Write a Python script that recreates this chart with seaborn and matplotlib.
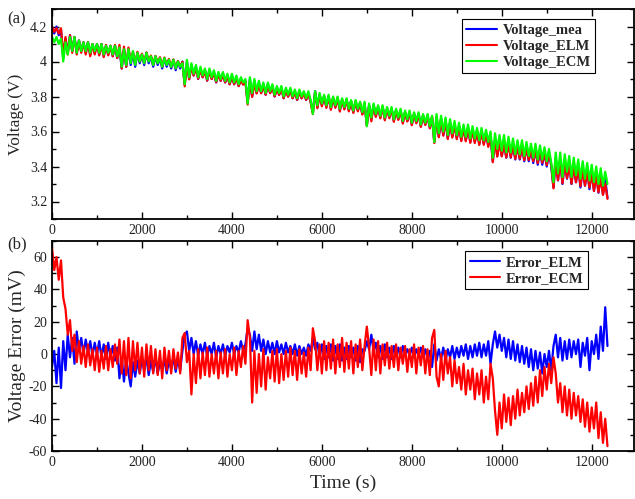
import numpy as np
import pandas as pd
import matplotlib
matplotlib.use("Agg")
import matplotlib.pyplot as plt
import seaborn as sns
from matplotlib.ticker import MultipleLocator, FuncFormatter

# ---------------- data (50 s sampling) ----------------
time_s = np.arange(0, 12400, 50)

voltage_mea = [
    4.20, 4.16, 4.20, 4.15, 4.18, 4.02, 4.13, 4.05, 4.15, 4.06, 4.14, 4.05, 4.12, 4.06, 4.11, 4.05, 4.11, 4.04, 4.10, 4.05,
    4.10, 4.04, 4.10, 4.03, 4.09, 4.04, 4.09, 4.03, 4.09, 4.02, 4.08, 3.96, 4.07, 3.97, 4.07, 3.98, 4.05, 3.97, 4.05, 3.99,
    4.04, 3.98, 4.05, 3.99, 4.03, 3.97, 4.03, 3.98, 4.02, 3.96, 4.02, 3.97, 4.01, 3.96, 4.01, 3.95, 4.00, 3.96, 4.00, 3.87,
    4.00, 3.90, 3.98, 3.92, 3.97, 3.90, 3.96, 3.91, 3.95, 3.89, 3.95, 3.90, 3.94, 3.88, 3.93, 3.89, 3.93, 3.88, 3.92, 3.87,
    3.92, 3.87, 3.91, 3.86, 3.90, 3.87, 3.89, 3.77, 3.90, 3.80, 3.89, 3.82, 3.88, 3.82, 3.87, 3.81, 3.87, 3.82, 3.86, 3.80,
    3.85, 3.81, 3.85, 3.79, 3.84, 3.80, 3.84, 3.79, 3.83, 3.78, 3.83, 3.79, 3.82, 3.78, 3.82, 3.77, 3.71, 3.83, 3.74, 3.81,
    3.75, 3.80, 3.74, 3.80, 3.73, 3.79, 3.74, 3.79, 3.72, 3.78, 3.73, 3.78, 3.72, 3.77, 3.71, 3.77, 3.72, 3.76, 3.70, 3.76,
    3.64, 3.75, 3.67, 3.75, 3.69, 3.74, 3.68, 3.74, 3.67, 3.73, 3.68, 3.73, 3.66, 3.72, 3.67, 3.72, 3.65, 3.71, 3.66, 3.71,
    3.64, 3.70, 3.65, 3.70, 3.63, 3.69, 3.64, 3.69, 3.62, 3.68, 3.54, 3.68, 3.57, 3.67, 3.58, 3.66, 3.56, 3.65, 3.57, 3.64,
    3.56, 3.63, 3.55, 3.62, 3.55, 3.62, 3.54, 3.61, 3.54, 3.60, 3.53, 3.60, 3.53, 3.59, 3.52, 3.58, 3.43, 3.56, 3.46, 3.55,
    3.46, 3.54, 3.45, 3.54, 3.45, 3.53, 3.44, 3.52, 3.44, 3.52, 3.43, 3.51, 3.43, 3.50, 3.42, 3.50, 3.41, 3.49, 3.41, 3.48,
    3.40, 3.48, 3.40, 3.28, 3.45, 3.32, 3.44, 3.30, 3.43, 3.33, 3.42, 3.30, 3.41, 3.31, 3.40, 3.28, 3.39, 3.29, 3.38, 3.27,
    3.37, 3.26, 3.36, 3.25, 3.35, 3.24, 3.33, 3.22,
]

voltage_elm = [
    4.200, 4.170, 4.190, 4.160, 4.190, 4.030, 4.140, 4.040, 4.150, 4.050, 4.140, 4.040, 4.120, 4.050, 4.110, 4.040, 4.110, 4.030, 4.100, 4.040,
    4.100, 4.035, 4.100, 4.025, 4.095, 4.035, 4.090, 4.030, 4.095, 4.020, 4.095, 3.960, 4.085, 3.970, 4.080, 4.000, 4.055, 3.985, 4.055, 4.000,
    4.045, 3.990, 4.052, 4.003, 4.034, 3.981, 4.032, 3.992, 4.025, 3.970, 4.023, 3.982, 4.014, 3.969, 4.012, 3.961, 4.003, 3.970, 3.998, 3.858,
    3.986, 3.898, 3.970, 3.920, 3.962, 3.901, 3.954, 3.910, 3.943, 3.891, 3.945, 3.900, 3.933, 3.882, 3.925, 3.890, 3.924, 3.881, 3.915, 3.869,
    3.913, 3.870, 3.905, 3.859, 3.892, 3.868, 3.884, 3.754, 3.888, 3.798, 3.876, 3.817, 3.868, 3.818, 3.861, 3.810, 3.862, 3.819, 3.853, 3.800,
    3.842, 3.809, 3.844, 3.790, 3.833, 3.799, 3.835, 3.790, 3.824, 3.781, 3.825, 3.790, 3.816, 3.781, 3.814, 3.768, 3.700, 3.827, 3.733, 3.812,
    3.744, 3.803, 3.735, 3.802, 3.724, 3.794, 3.735, 3.793, 3.714, 3.784, 3.726, 3.783, 3.715, 3.772, 3.706, 3.774, 3.715, 3.765, 3.697, 3.758,
    3.632, 3.747, 3.658, 3.748, 3.683, 3.742, 3.675, 3.743, 3.664, 3.732, 3.676, 3.733, 3.655, 3.721, 3.666, 3.722, 3.645, 3.710, 3.657, 3.711,
    3.636, 3.702, 3.647, 3.701, 3.626, 3.692, 3.637, 3.693, 3.618, 3.688, 3.534, 3.684, 3.567, 3.673, 3.576, 3.664, 3.557, 3.652, 3.565, 3.643,
    3.556, 3.632, 3.545, 3.621, 3.544, 3.623, 3.535, 3.612, 3.534, 3.601, 3.523, 3.602, 3.524, 3.591, 3.512, 3.586, 3.424, 3.546, 3.456, 3.538,
    3.458, 3.530, 3.452, 3.531, 3.453, 3.522, 3.444, 3.514, 3.445, 3.515, 3.436, 3.506, 3.438, 3.497, 3.430, 3.498, 3.419, 3.489, 3.422, 3.480,
    3.408, 3.478, 3.410, 3.275, 3.438, 3.322, 3.430, 3.304, 3.422, 3.333, 3.411, 3.302, 3.402, 3.310, 3.391, 3.288, 3.383, 3.291, 3.370, 3.280,
    3.362, 3.260, 3.348, 3.253, 3.333, 3.238, 3.301, 3.215,
]

voltage_ecm = [
    4.14, 4.11, 4.14, 4.10, 4.13, 4.00, 4.11, 4.04, 4.14, 4.06, 4.14, 4.05, 4.12, 4.06, 4.11, 4.06, 4.11, 4.05, 4.10, 4.06,
    4.10, 4.05, 4.10, 4.04, 4.09, 4.05, 4.09, 4.04, 4.09, 4.03, 4.08, 3.97, 4.07, 3.98, 4.07, 3.99, 4.06, 3.98, 4.05, 4.00,
    4.04, 3.99, 4.05, 4.00, 4.03, 3.98, 4.03, 3.99, 4.02, 3.97, 4.02, 3.98, 4.01, 3.97, 4.01, 3.96, 4.00, 3.97, 3.99, 3.87,
    4.01, 3.91, 3.99, 3.93, 3.98, 3.91, 3.97, 3.92, 3.96, 3.90, 3.96, 3.91, 3.95, 3.89, 3.94, 3.90, 3.94, 3.89, 3.93, 3.88,
    3.93, 3.88, 3.92, 3.87, 3.91, 3.88, 3.90, 3.76, 3.91, 3.82, 3.90, 3.83, 3.89, 3.83, 3.88, 3.82, 3.88, 3.83, 3.87, 3.81,
    3.86, 3.82, 3.86, 3.80, 3.85, 3.81, 3.85, 3.80, 3.84, 3.79, 3.84, 3.80, 3.83, 3.79, 3.83, 3.78, 3.70, 3.83, 3.75, 3.82,
    3.76, 3.81, 3.75, 3.81, 3.74, 3.80, 3.75, 3.80, 3.73, 3.79, 3.74, 3.79, 3.73, 3.78, 3.72, 3.78, 3.73, 3.77, 3.71, 3.77,
    3.63, 3.76, 3.68, 3.76, 3.70, 3.75, 3.69, 3.75, 3.68, 3.74, 3.69, 3.74, 3.67, 3.73, 3.68, 3.73, 3.66, 3.72, 3.67, 3.72,
    3.65, 3.71, 3.66, 3.71, 3.64, 3.70, 3.65, 3.70, 3.63, 3.69, 3.54, 3.70, 3.59, 3.69, 3.60, 3.68, 3.58, 3.67, 3.59, 3.66,
    3.58, 3.65, 3.57, 3.64, 3.57, 3.64, 3.56, 3.63, 3.56, 3.62, 3.55, 3.62, 3.55, 3.61, 3.54, 3.60, 3.45, 3.59, 3.50, 3.58,
    3.49, 3.58, 3.48, 3.57, 3.48, 3.56, 3.47, 3.55, 3.47, 3.55, 3.46, 3.54, 3.46, 3.53, 3.45, 3.53, 3.44, 3.52, 3.44, 3.51,
    3.43, 3.50, 3.42, 3.31, 3.48, 3.36, 3.48, 3.34, 3.47, 3.37, 3.46, 3.34, 3.45, 3.35, 3.44, 3.33, 3.43, 3.33, 3.42, 3.32,
    3.41, 3.31, 3.40, 3.30, 3.39, 3.29, 3.37, 3.30,
]

error_elm = [
    -8, 2, -18, 4, -21, 8, -10, 12, -2, 10,
    -6, 14, 2, 10, 0, 9, 1, 8, -1, 7,
    0, 8, -2, 6, -3, 7, -2, 5, -4, 4,
    -15, -2, -17, -3, -12, -20, -5, -14, -4, -12,
    -3, -10, -2, -13, -4, -11, -2, -12, -5, -10,
    -3, -12, -4, -9, -2, -11, -3, -10, 2, 12,
    14, 2, 10, 0, 8, -1, 6, 0, 7, -1,
    5, 0, 7, -2, 5, 0, 6, -1, 5, 1,
    7, 0, 5, 1, 8, 2, 6, 16, 12, 2,
    14, 3, 12, 2, 9, 0, 8, 1, 7, 0,
    8, 1, 6, 0, 7, 1, 5, 0, 6, -1,
    5, 0, 4, -1, 6, 2, 10, 3, 7, -2,
    6, -3, 5, -2, 6, -4, 5, -3, 6, -4,
    4, -3, 5, -2, 4, -4, 5, -5, 3, 2,
    8, 3, 12, 2, 7, -2, 5, -3, 6, -2,
    4, -3, 5, -1, 4, -2, 5, 0, 3, -1,
    4, -2, 3, -1, 4, -2, 3, -3, 2, -8,
    6, -4, 3, -3, 4, -4, 3, -2, 5, -3,
    4, -2, 5, -1, 6, -3, 5, -2, 6, -1,
    7, -2, 6, -1, 8, -6, 6, 14, 4, 12,
    2, 10, -2, 9, -3, 8, -4, 6, -5, 5,
    -6, 4, -8, 3, -10, 2, -9, 1, -12, 0,
    -8, 2, -10, 5, 12, -2, 10, -4, 8, -3,
    9, -2, 8, 0, 9, -8, 7, -1, 10, -10,
    8, 0, 12, -3, 17, 2, 29, 5,
]

error_ecm = [
    66, 52, 60, 46, 58, 35, 28, 12, 21, 2,
    12, -5, 8, -6, 5, -8, 6, -7, 3, -10,
    4, -11, 2, -9, 5, -10, 3, -8, 6, -6,
    9, -12, 8, -13, 10, -15, 8, -10, 7, -12,
    4, -14, 6, -10, 5, -12, 3, -13, 2, -15,
    4, -10, 2, -12, 3, -9, 1, -12, 10, 13,
    -5, 2, -25, 0, -18, 3, -15, 1, -13, 4,
    -14, 0, -12, 2, -15, 1, -12, 3, -14, 0,
    -10, 4, -13, 2, -8, 5, -6, 21, 10, -30,
    2, -24, 0, -20, 3, -22, -2, -15, 2, -17,
    3, -18, 0, -16, 2, -14, 4, -13, 2, -16,
    3, -12, 1, -14, 4, -10, 16, 8, -10, 6,
    -12, 8, -10, 7, -9, 9, -12, 6, -8, 10,
    -11, 7, -9, 8, -12, 6, -8, 9, -10, 5,
    17, 4, -13, 9, -10, 8, -12, 6, -7, 7,
    -9, 5, -8, 6, -10, 4, -6, 5, -11, 3,
    -8, 6, -12, 4, -7, 5, -12, 3, -13, 10,
    15, -14, -20, 0, -16, 2, -12, -2, -20, -4,
    -18, -8, -22, -6, -25, -10, -22, -9, -28, -12,
    -25, -10, -30, -14, -28, -6, -15, -35, -50, -30,
    -46, -25, -42, -27, -44, -26, -40, -22, -38, -24,
    -36, -20, -34, -18, -32, -14, -30, -10, -26, -8,
    -22, -6, -18, -2, -12, -30, -18, -36, -20, -38,
    -22, -40, -24, -38, -26, -42, -28, -45, -30, -48,
    -33, -46, -30, -52, -36, -55, -40, -57,
]

voltage_labels = ["Voltage_mea", "Voltage_ELM", "Voltage_ECM"]
error_labels = ["Error_ELM", "Error_ECM"]

df_v = pd.DataFrame({"t": time_s, "mea": voltage_mea, "elm": voltage_elm, "ecm": voltage_ecm})
df_e = pd.DataFrame({"t": time_s, "elm": error_elm, "ecm": error_ecm})

# ---------------- style ----------------
sns.set_style("ticks")
plt.rcParams["font.family"] = ["Liberation Serif", "DejaVu Serif"]
plt.rcParams["axes.unicode_minus"] = False

BLUE, RED, GREEN = "#0000FF", "#FF0000", "#00FF00"

fig = plt.figure(figsize=(6.35, 4.99), dpi=100)
W, H = 635, 499
ax1 = fig.add_axes([52 / W, 1 - 219 / H, 582 / W, 210 / H])
ax2 = fig.add_axes([52 / W, 1 - 451 / H, 582 / W, 210 / H])

lw = 1.6
sns.lineplot(data=df_v, x="t", y="mea", ax=ax1, color=BLUE, lw=lw, label=voltage_labels[0], sort=False, estimator=None)
sns.lineplot(data=df_v, x="t", y="elm", ax=ax1, color=RED, lw=lw, label=voltage_labels[1], sort=False, estimator=None)
sns.lineplot(data=df_v, x="t", y="ecm", ax=ax1, color=GREEN, lw=lw, label=voltage_labels[2], sort=False, estimator=None)

sns.lineplot(data=df_e, x="t", y="elm", ax=ax2, color=BLUE, lw=lw, label=error_labels[0], sort=False, estimator=None)
sns.lineplot(data=df_e, x="t", y="ecm", ax=ax2, color=RED, lw=lw, label=error_labels[1], sort=False, estimator=None)

for ax in (ax1, ax2):
    ax.set_xlim(0, 12940)
    ax.xaxis.set_major_locator(MultipleLocator(2000))
    ax.xaxis.set_minor_locator(MultipleLocator(1000))
    ax.tick_params(which="both", direction="in", top=True, right=True,
                   labelsize=10, colors="black", width=1.0)
    ax.tick_params(which="major", length=5)
    ax.tick_params(which="minor", length=3)
    for s in ax.spines.values():
        s.set_linewidth(1.3)
        s.set_color("black")

ax1.set_ylim(3.1, 4.3)
ax1.yaxis.set_major_locator(MultipleLocator(0.2))
ax1.yaxis.set_minor_locator(MultipleLocator(0.1))
ax1.yaxis.set_major_formatter(FuncFormatter(lambda v, p: f"{v:g}"))
ax1.set_xlabel("")
ax1.set_ylabel("Voltage (V)", fontsize=12.5, labelpad=4)

ax2.set_ylim(-60, 70)
ax2.yaxis.set_major_locator(MultipleLocator(20))
ax2.yaxis.set_minor_locator(MultipleLocator(10))
ax2.yaxis.set_major_formatter(FuncFormatter(lambda v, p: f"{v:g}"))
ax2.set_xlabel("Time (s)", fontsize=14, labelpad=4)
ax2.set_ylabel("Voltage Error (mV)", fontsize=14, labelpad=2)

for ax in (ax1, ax2):
    for lab in ax.get_xticklabels() + ax.get_yticklabels():
        lab.set_color("#222222")

leg_kw = dict(loc="upper right", frameon=True, fancybox=False, framealpha=1,
              edgecolor="black", handlelength=2.1, handletextpad=0.4,
              labelspacing=0.2, borderpad=0.3, borderaxespad=0,
              prop={"weight": "bold", "size": 10.5, "family": "Liberation Serif"})
l1 = ax1.legend(bbox_to_anchor=(0.933, 0.952), **leg_kw)
l2 = ax2.legend(bbox_to_anchor=(0.921, 0.952), **leg_kw)
for l in (l1, l2):
    l.get_frame().set_linewidth(0.8)
    for h in l.get_lines():
        h.set_linewidth(1.5)

fig.text(7 / W, 1 - 19 / H, "(a)", fontsize=12, va="center", ha="left")
fig.text(7 / W, 1 - 244 / H, "(b)", fontsize=12, va="center", ha="left")

fig.savefig("out.png", dpi=100)
